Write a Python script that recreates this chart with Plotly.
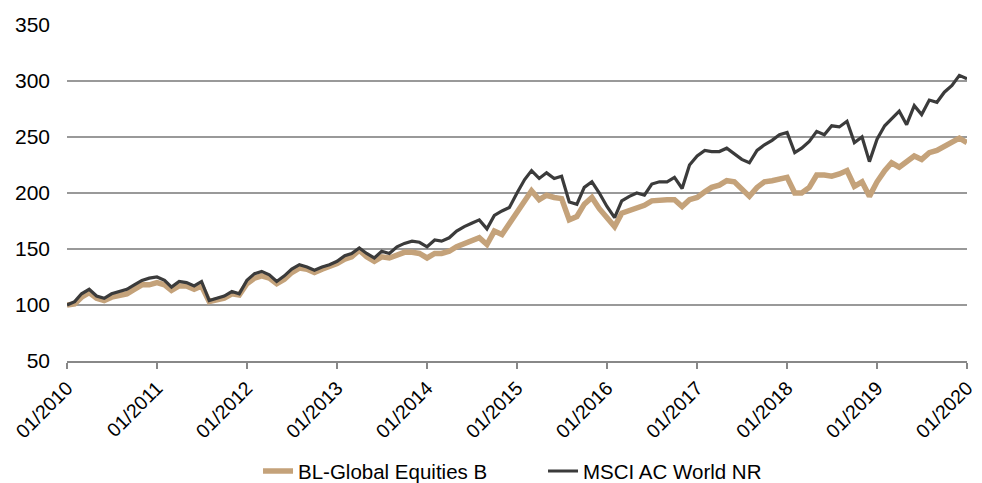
import plotly.graph_objects as go
import pandas as pd

# Monthly dates Jan 2010 .. Jan 2020
dates = pd.date_range("2010-01-01", "2020-01-01", freq="MS").strftime("%Y-%m-%d").tolist()

bl_global = [
    100, 101, 107, 111, 106, 104, 107, 108, 110, 114, 118, 118,   # 2010
    120, 118, 113, 117, 117, 114, 117, 103, 104, 106, 110, 109,   # 2011
    119, 124, 126, 124, 119, 123, 129, 133, 132, 129, 132, 134,   # 2012
    137, 141, 143, 149, 143, 139, 143, 142, 145, 147, 147, 146,   # 2013
    142, 146, 146, 148, 152, 155, 157, 160, 154, 166, 163, 173,   # 2014
    183, 193, 202, 194, 198, 196, 195, 176, 179, 190, 196, 186,   # 2015
    178, 170, 182, 184, 186, 189, 193, 194, 194, 194, 188, 194,   # 2016
    196, 201, 205, 207, 211, 210, 203, 197, 205, 210, 211, 213,   # 2017
    214, 200, 200, 205, 216, 216, 215, 217, 220, 206, 210, 197,   # 2018
    210, 220, 227, 223, 228, 233, 230, 236, 238, 242, 245, 249,   # 2019
    245,
]

msci_acwi = [
    100, 103, 110, 114, 108, 106, 110, 112, 114, 118, 122, 124,   # 2010
    125, 122, 116, 121, 120, 117, 121, 104, 106, 108, 112, 110,   # 2011
    122, 128, 130, 127, 121, 126, 132, 136, 134, 131, 134, 136,   # 2012
    139, 144, 146, 151, 146, 142, 148, 146, 152, 155, 157, 156,   # 2013
    152, 158, 157, 160, 166, 170, 173, 176, 168, 180, 184, 187,   # 2014
    200, 212, 220, 213, 218, 213, 215, 192, 190, 205, 210, 200,   # 2015
    188, 178, 193, 197, 200, 198, 208, 210, 210, 214, 204, 225,   # 2016
    233, 238, 237, 237, 240, 235, 230, 227, 238, 243, 247, 252,   # 2017
    254, 236, 240, 246, 255, 252, 260, 259, 264, 245, 250, 228,   # 2018
    248, 260, 266, 273, 261, 278, 270, 283, 281, 290, 296, 305,   # 2019
    302,
]

tick_vals = [f"{y}-01-01" for y in range(2010, 2021)]
tick_text = [f"01/{y}" for y in range(2010, 2021)]
y_ticks = [50, 100, 150, 200, 250, 300, 350]

FONT = "Liberation Sans, Arial, sans-serif"

fig = go.Figure()
fig.add_trace(go.Scatter(x=dates, y=bl_global, mode="lines",
                         name="BL-Global Equities B",
                         line=dict(color="#C4A27A", width=5.5)))
fig.add_trace(go.Scatter(x=dates, y=msci_acwi, mode="lines",
                         name="MSCI AC World NR",
                         line=dict(color="#3B3B3B", width=3.2)))

# page body has an 8px default margin, so margins are reduced accordingly
fig.update_layout(
    width=982, height=483,
    margin=dict(l=59, r=23, t=17, b=130, autoexpand=False),
    paper_bgcolor="white", plot_bgcolor="white",
    font=dict(family=FONT, size=21, color="#000000"),
    showlegend=True,
    legend=dict(orientation="h", xref="container", x=0.2546, xanchor="left",
                yref="container", y=0.041, yanchor="middle",
                font=dict(size=20.5), itemwidth=30, entrywidth=240,
                tracegroupgap=0),
)
fig.update_xaxes(
    type="date", range=["2010-01-01", "2020-01-01"],
    tickvals=tick_vals, ticktext=tick_text, tickangle=-45,
    tickfont=dict(size=19.5), ticklabeloverflow="allow",
    showgrid=False, showline=True, linecolor="#888888", linewidth=2,
    ticks="outside", ticklen=6, tickcolor="#888888", tickwidth=2,
    zeroline=False, automargin=False,
)
fig.update_yaxes(
    range=[50, 350], tickvals=y_ticks,
    showgrid=True, gridcolor="#999999", gridwidth=1.5,
    showline=False, zeroline=False, ticks="", ticklabelstandoff=16,
    automargin=False,
)

fig.write_html("out.html")
